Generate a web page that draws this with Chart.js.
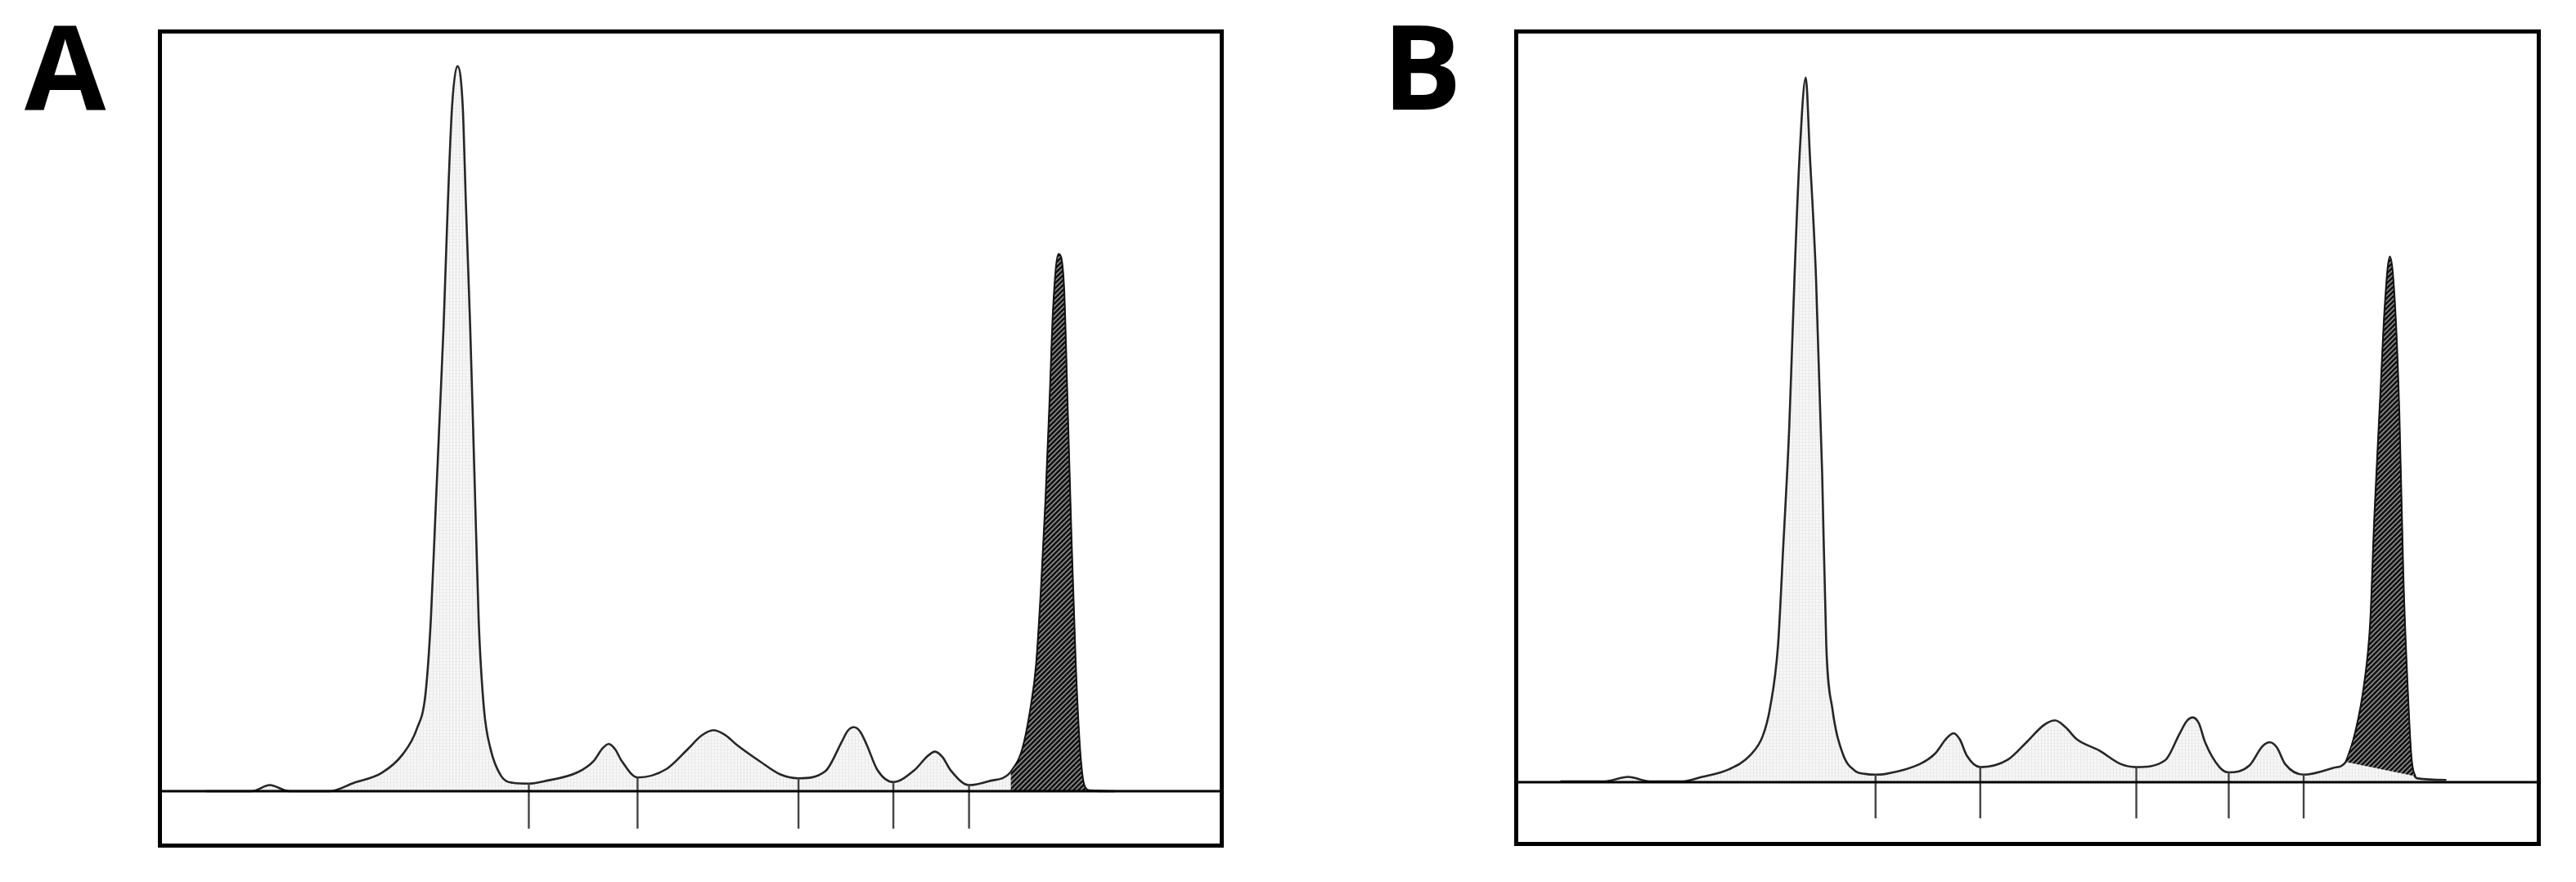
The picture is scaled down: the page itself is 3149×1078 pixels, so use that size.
<!DOCTYPE html>
<html>
<head>
<meta charset="utf-8">
<script src="https://cdn.jsdelivr.net/npm/chart.js@4.4.1/dist/chart.umd.min.js"></script>
<style>
  html, body { margin: 0; padding: 0; background: #fff; }
  body { width: 3149px; height: 1078px; position: relative; overflow: hidden; }
  .panel-label {
    position: absolute; font-family: "Open Sans", "DejaVu Sans", sans-serif;
    font-weight: 700; font-size: 144px; line-height: 1; color: #000;
  }
  canvas { position: absolute; }
</style>
</head>
<body>
<div class="panel-label" style="left:30px; top:6px;">A</div>
<div class="panel-label" style="left:1690px; top:6px;">B</div>
<canvas id="chartA" width="1303" height="1000" style="left:193px; top:36px;"></canvas>
<canvas id="chartB" width="1255" height="998" style="left:1851px; top:36px;"></canvas>
<script>
// densitometry trace A (position along lane 0-100, density)
const posA = [4.5, 8.8, 10.5, 12.3, 16.1, 18.4, 21.0, 23.0, 24.3, 25.1, 25.6, 26.0, 26.4, 26.8, 27.2, 27.6, 28.1,
  28.6, 28.9, 29.3, 29.7, 30.1, 30.6, 31.2, 32.2, 33.3, 34.8, 36.2, 39.4, 40.9, 41.7, 42.3, 42.9, 43.5, 45.0,
  47.7, 49.7, 51.0, 52.1, 53.2, 54.3, 56.5, 58.4, 60.1, 62.6, 64.2, 64.7, 65.3, 65.9, 66.5, 67.5, 69.0, 71.0,
  72.2, 72.9, 73.6, 74.4, 76.1, 77.9, 80.0, 81.1, 81.9, 82.4, 82.9, 83.3, 83.7, 84.0, 84.5, 85.0, 85.3, 85.7,
  86.1, 86.5, 86.9, 87.4, 89.8];
const densA = [0, 0, 0.8, 0, 0, 1.1, 2.4, 4.9, 8.2, 12.7, 22.3, 35.1, 48.0, 60.9, 77.0, 89.9, 95.2,
  89.9, 77.0, 60.9, 41.6, 22.3, 10.7, 5.6, 2.0, 1.1, 1.0, 1.3, 2.5, 4.0, 5.6, 6.2, 5.5, 4.0, 1.8,
  2.9, 5.5, 7.3, 8.0, 7.4, 6.1, 3.9, 2.2, 1.7, 2.6, 6.6, 7.9, 8.4, 7.8, 6.1, 2.8, 1.2, 2.8,
  4.6, 5.2, 4.5, 2.7, 0.8, 1.3, 2.5, 5.5, 11.1, 16.5, 27.5, 38.6, 52.3, 63.3, 70.5, 66.1, 52.3, 33.0,
  16.5, 5.5, 0.8, 0.1, 0];
const cutsA = [34.8, 45.0, 60.1, 69.0, 76.1];
const monoA = [80.0, 87.4];   // hatched band (start, end)

// densitometry trace B
const posB = [4.5, 8.8, 11.1, 13.2, 16.4, 18.3, 20.9, 23.0, 24.2, 24.9, 25.7, 26.2, 26.8, 27.3, 27.8, 28.4,
  28.8, 29.4, 30.0, 30.4, 31.0, 32.0, 33.2, 34.2, 35.2, 36.2, 39.5, 41.0, 42.1, 42.8, 43.4, 44.1, 45.4, 48.1,
  49.9, 51.6, 52.7, 53.7, 54.8, 57.0, 59.1, 60.6, 63.4, 64.8, 65.5, 66.1, 66.7, 67.3, 68.7, 69.6, 71.6, 72.9,
  73.6, 74.3, 75.1, 76.9, 79.8, 81.0, 82.0, 82.8, 83.4, 83.8, 84.4, 84.8, 85.3, 85.8, 86.2, 86.6, 87.0, 87.4,
  88.0, 90.8];
const densB = [0.1, 0.1, 0.7, 0.1, 0.1, 0.7, 1.7, 3.6, 6.1, 9.7, 18.2, 31.1, 47.4, 67.0, 83.3, 93.6,
  83.3, 67.0, 40.9, 18.2, 9.7, 3.8, 1.5, 1.1, 1.0, 1.1, 2.4, 3.8, 5.8, 6.5, 5.7, 3.5, 2.0, 3.0,
  5.3, 7.6, 8.2, 7.3, 5.7, 4.2, 2.4, 2.0, 2.9, 6.4, 8.1, 8.6, 7.8, 5.3, 2.0, 1.3, 2.2, 4.8,
  5.3, 4.6, 2.4, 1.0, 1.9, 2.7, 7.0, 13.0, 21.3, 35.2, 51.9, 62.9, 69.8, 62.9, 49.1, 27.0, 13.0, 3.0,
  0.5, 0.3];
const cutsB = [35.2, 45.4, 60.6, 69.6, 76.9];
const monoB = [81.0, 87.4];
const slantBx = [81.0, 87.8];   // skewed baseline under the hatched band
const slantBy = [2.7, 0.8];

// fill patterns
function makePattern(size, draw) {
  const c = document.createElement('canvas');
  c.width = size; c.height = size;
  const g = c.getContext('2d');
  draw(g, size);
  return g.createPattern(c, 'repeat');
}
const dotted = makePattern(4, (g, s) => {
  g.fillStyle = '#f7f7f7'; g.fillRect(0, 0, s, s);
  g.fillStyle = '#e7e7e7'; g.fillRect(0, 0, 1, s);
  g.fillStyle = '#ececec'; g.fillRect(0, 0, s, 1);
});
const hatch = makePattern(6, (g, s) => {
  g.fillStyle = '#111'; g.fillRect(0, 0, s, s);
  g.strokeStyle = '#8c8c8c'; g.lineWidth = 1.6;
  g.beginPath();
  g.moveTo(0, s); g.lineTo(s, 0);
  g.moveTo(-s / 2, s / 2); g.lineTo(s / 2, -s / 2);
  g.moveTo(s / 2, s * 1.5); g.lineTo(s * 1.5, s / 2);
  g.stroke();
});

const frame = {
  id: 'frame',
  afterDraw(chart) {
    const ctx = chart.ctx;
    ctx.save();
    ctx.strokeStyle = '#000';
    ctx.lineWidth = 5;
    ctx.strokeRect(2.5, 2.5, chart.width - 5, chart.height - 5);
    ctx.restore();
  }
};

function toPoints(xs, ys) {
  return xs.map((x, i) => ({ x: x, y: ys[i] }));
}

function createTrace(canvasId, pos, dens, cuts, mono, yMin, cutBottom, slant) {
  const trace = toPoints(pos, dens);
  const band = trace.filter(p => p.x >= mono[0] && p.x <= mono[1]);
  const cutLines = [];
  cuts.forEach(c => {
    cutLines.push({ x: c, y: dens[pos.indexOf(c)] });
    cutLines.push({ x: c, y: cutBottom });
    cutLines.push({ x: c, y: null });
  });
  const datasets = [
    { data: [{ x: 0, y: 0 }, { x: 100, y: 0 }], borderColor: '#000', borderWidth: 3.2, fill: false },
    { data: cutLines, borderColor: '#444', borderWidth: 2.4, fill: false, spanGaps: false },
    { data: band, borderColor: '#111', borderWidth: 1.5, backgroundColor: hatch,
      fill: slant ? 4 : 'origin', cubicInterpolationMode: 'monotone' },
    { data: trace, borderColor: '#262626', borderWidth: 2.6, backgroundColor: dotted,
      fill: 'origin', cubicInterpolationMode: 'monotone' }
  ];
  if (slant) {
    band.push({ x: slant[0][1], y: slant[1][1] });
    datasets.push({ data: toPoints(slant[0], slant[1]), borderColor: '#333', borderWidth: 1, fill: false });
  }
  return new Chart(document.getElementById(canvasId).getContext('2d'), {
    type: 'line',
    data: { datasets: datasets },
    options: {
      responsive: false,
      animation: false,
      devicePixelRatio: 1,
      elements: { point: { radius: 0 } },
      layout: { padding: 0 },
      plugins: { legend: { display: false }, tooltip: { enabled: false } },
      scales: {
        x: { type: 'linear', min: 0, max: 100, display: false },
        y: { type: 'linear', min: yMin, max: 100, display: false }
      }
    },
    plugins: [frame]
  });
}

const chartA = createTrace('chartA', posA, densA, cutsA, monoA, -7.41, -4.9, null);
const chartB = createTrace('chartB', posB, densB, cutsB, monoB, -8.48, -4.8, [slantBx, slantBy]);
</script>
</body>
</html>
